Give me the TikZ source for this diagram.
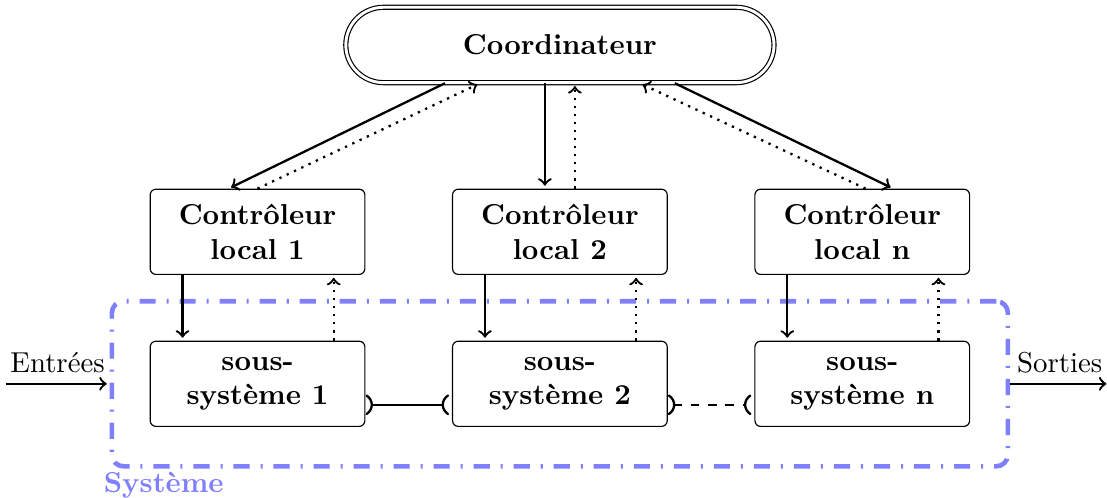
\documentclass[tikz,border=0pt]{standalone}
\usepackage{tikz}
\usetikzlibrary{shapes.misc, fit}
\usetikzlibrary{arrows}

\begin{document}
\begin{tikzpicture}[->,>=to,shorten >=1pt,auto,node distance=3.69cm,thick]
  \tikzstyle{bloc}=[draw,thin,rounded corners=2pt,align=center,font=\bfseries,
                    minimum width=2.62cm,minimum height=1.04cm]
  \tikzstyle{coordo}=[draw,thin,double,double distance=1pt,rounded rectangle,
                      font=\bfseries,minimum width=5.46cm,minimum height=0.92cm]
  \tikzstyle{systeme}=[draw=blue!50,ultra thick,rounded corners=4pt,
                       dash pattern=on 5.6pt off 3.8pt on 0.7pt off 3.8pt]

  \useasboundingbox (0,0) rectangle (13.51,6.077);

  \node[coordo] (coord) at (6.833,5.528) {Coordinateur};
  \node[bloc]   (ctl2) [below of=coord, node distance=2.28cm] {Contrôleur\\local 2};
  \node[bloc]   (ctl1) [left of=ctl2]  {Contrôleur\\local 1};
  \node[bloc]   (ctl3) [right of=ctl2] {Contrôleur\\local n};
  \node[bloc]   (ss1) [below of=ctl1, node distance=1.855cm] {sous-\\système 1};
  \node[bloc]   (ss2) [below of=ctl2, node distance=1.855cm] {sous-\\système 2};
  \node[bloc]   (ss3) [below of=ctl3, node distance=1.855cm] {sous-\\système n};

  \node[systeme, fit=(ss1)(ss3), inner xsep=0.46cm, inner ysep=0.48cm] (sys) {};
  \node[anchor=north west, inner sep=1pt, text=blue!50, font=\bfseries] (syslbl)
       at ([xshift=-0.12cm]sys.south west) {Système};

  \coordinate (in)  at ([xshift=-1.27cm]sys.west);
  \coordinate (out) at ([xshift=1.21cm]sys.east);

  % coordinateur <-> controleurs
  \path ([xshift=-1.403cm]coord.south) edge ([xshift=-0.354cm]ctl1.north)
        (ctl1.north) edge [dotted] ([xshift=-0.976cm]coord.south)
        ([xshift=-0.183cm]coord.south) edge ([xshift=-0.183cm]ctl2.north)
        ([xshift=0.183cm]ctl2.north) edge [dotted] ([xshift=0.183cm]coord.south)
        ([xshift=1.403cm]coord.south) edge ([xshift=0.378cm]ctl3.north)
        ([xshift=0.04cm]ctl3.north) edge [dotted] ([xshift=0.976cm]coord.south);

  % controleurs <-> sous-systemes
  \path ([xshift=-0.915cm]ctl1.south) edge ([xshift=-0.915cm]ss1.north)
        ([xshift=0.93cm]ss1.north) edge [dotted] ([xshift=0.93cm]ctl1.south)
        ([xshift=-0.915cm]ctl2.south) edge ([xshift=-0.915cm]ss2.north)
        ([xshift=0.93cm]ss2.north) edge [dotted] ([xshift=0.93cm]ctl2.south)
        ([xshift=-0.915cm]ctl3.south) edge ([xshift=-0.915cm]ss3.north)
        ([xshift=0.93cm]ss3.north) edge [dotted] ([xshift=0.93cm]ctl3.south);

  % liens entre sous-systemes
  \path ([yshift=-0.256cm]ss1.east) edge [)-(] ([yshift=-0.256cm]ss2.west)
        ([yshift=-0.256cm]ss2.east) edge [dashed, )-(] ([yshift=-0.256cm]ss3.west);

  % entrees / sorties
  \draw (in) -- node[above] {Entrées} (sys.west);
  \draw (sys.east) -- node[above] {Sorties} (out);
\end{tikzpicture}
\end{document}
